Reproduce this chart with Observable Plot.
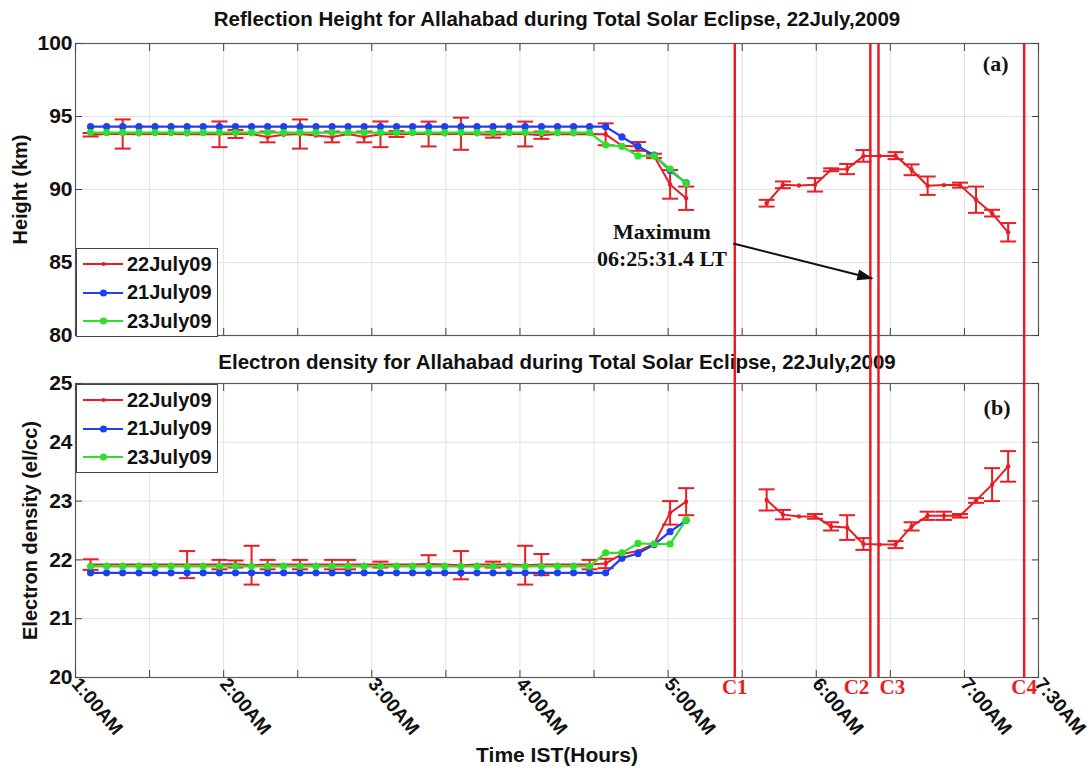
<!DOCTYPE html>
<html><head><meta charset="utf-8">
<script src="https://cdn.jsdelivr.net/npm/d3@7"></script>
<script src="https://cdn.jsdelivr.net/npm/@observablehq/plot@0.6"></script>
<style>
html,body{margin:0;padding:0;background:#fff;}
#wrap{position:relative;width:1092px;height:769px;overflow:hidden;font-family:"Liberation Sans",Arial,sans-serif;}
#wrap svg{display:block;}
.legend{position:absolute;left:76px;width:140px;border:1px solid #444;background:#fff;font-weight:bold;font-size:20px;color:#111;box-sizing:content-box;}
.legend .row{display:flex;align-items:center;height:28.5px;white-space:nowrap;}
.legend svg{display:block;flex:none;}
</style></head><body>
<div id="wrap"><div id="top"></div><div id="bottom"></div></div>
<script>
// ---------------- data ----------------
const seriesNames = ["22July09", "21July09", "23July09"];
const seriesColors = ["#ec1c24", "#1f3ff0", "#2ee02e"];

// sample times, minutes after midnight (IST)
const timePre = [66.1, 72.6, 79.1, 85.7, 92.2, 98.7, 105.2, 111.7, 118.3, 124.8,
  131.3, 137.8, 144.3, 150.9, 157.4, 163.9, 170.4, 176.9, 183.5, 190.0,
  196.5, 203.0, 209.5, 216.1, 222.6, 229.1, 235.6, 242.1, 248.7, 255.2,
  261.7, 268.2, 274.7, 281.3, 287.8, 294.3, 300.8, 307.3];
const timePost = [339.9, 346.5, 353.0, 359.5, 366.0, 372.5, 379.1, 385.6,
  392.1, 398.6, 405.1, 411.7, 418.2, 424.7, 431.2, 437.7];

// (a) reflection height, km
const heightRedPre = [93.75, 93.8, 93.8, 93.78, 93.8, 93.8, 93.78, 93.8, 93.78, 93.8,
  93.8, 93.6, 93.75, 93.8, 93.7, 93.6, 93.8, 93.6, 93.78, 93.8,
  93.8, 93.8, 93.78, 93.82, 93.78, 93.75, 93.8, 93.8, 93.72, 93.8,
  93.78, 93.8, 93.78, 93.0, 92.95, 92.3, 90.35, 89.4];
const heightRedPreErr = [0.12, 0, 1.0, 0, 0, 0, 0, 0, 0.88, 0.27,
  0, 0.37, 0, 1.0, 0, 0.37, 0, 0.37, 0.88, 0.2,
  0, 0.85, 0, 1.1, 0, 0.2, 0, 0.85, 0.25, 0,
  0, 0, 0.75, 0, 0.3, 0.15, 0.98, 0.8];
const heightRedPost = [89.06, 90.32, 90.27, 90.32, 91.35, 91.4, 92.3, 92.3,
  92.32, 91.35, 90.26, 90.3, 90.3, 89.3, 88.38, 87.07];
const heightRedPostErr = [0.23, 0.23, 0, 0.46, 0.1, 0.35, 0.4, 0,
  0.24, 0.37, 0.63, 0, 0.17, 0.9, 0.23, 0.63];
const heightBlue = [94.3, 94.3, 94.3, 94.3, 94.3, 94.3, 94.3, 94.3, 94.3, 94.3,
  94.3, 94.3, 94.3, 94.3, 94.3, 94.3, 94.3, 94.3, 94.3, 94.3,
  94.3, 94.3, 94.3, 94.3, 94.3, 94.3, 94.3, 94.3, 94.3, 94.3,
  94.3, 94.3, 94.3, 93.6, 92.95, 92.35, 91.3, 90.45];
const heightGreen = [93.9, 93.9, 93.9, 93.9, 93.9, 93.9, 93.9, 93.9, 93.9, 93.9,
  93.9, 93.9, 93.9, 93.9, 93.9, 93.9, 93.9, 93.9, 93.9, 93.9,
  93.9, 93.9, 93.9, 93.9, 93.9, 93.9, 93.9, 93.9, 93.9, 93.9,
  93.9, 93.9, 93.05, 92.95, 92.3, 92.3, 91.4, 90.4];

// (b) electron density, el/cc
const densityRedPre = [21.92, 21.92, 21.92, 21.92, 21.92, 21.92, 21.92, 21.92, 21.92, 21.93,
  21.91, 21.92, 21.92, 21.92, 21.92, 21.92, 21.92, 21.92, 21.92, 21.92,
  21.92, 21.93, 21.92, 21.91, 21.92, 21.92, 21.92, 21.91, 21.92, 21.92,
  21.92, 21.92, 21.94, 22.1, 22.15, 22.27, 22.8, 22.99];
const densityRedPreErr = [0.09, 0, 0, 0, 0, 0, 0.23, 0, 0.08, 0.06,
  0.33, 0.08, 0, 0.08, 0, 0.08, 0.08, 0, 0.05, 0,
  0, 0.15, 0, 0.24, 0, 0.05, 0, 0.33, 0.18, 0,
  0, 0.08, 0.08, 0, 0, 0, 0.2, 0.23];
const densityRedPost = [23.02, 22.77, 22.74, 22.74, 22.57, 22.55, 22.27, 22.26,
  22.26, 22.57, 22.75, 22.75, 22.75, 23.01, 23.28, 23.59];
const densityRedPostErr = [0.18, 0.08, 0, 0.04, 0.07, 0.21, 0.1, 0,
  0.06, 0.07, 0.07, 0.07, 0.03, 0.04, 0.28, 0.26];
const densityBlue = [21.78, 21.78, 21.78, 21.78, 21.78, 21.78, 21.78, 21.78, 21.78, 21.78,
  21.78, 21.78, 21.78, 21.78, 21.78, 21.78, 21.78, 21.78, 21.78, 21.78,
  21.78, 21.78, 21.78, 21.78, 21.78, 21.78, 21.78, 21.78, 21.78, 21.78,
  21.78, 21.78, 21.78, 22.03, 22.11, 22.26, 22.48, 22.67];
const densityGreen = [21.89, 21.89, 21.89, 21.89, 21.89, 21.89, 21.89, 21.89, 21.89, 21.89,
  21.89, 21.89, 21.89, 21.89, 21.89, 21.89, 21.89, 21.89, 21.89, 21.89,
  21.89, 21.89, 21.89, 21.89, 21.89, 21.89, 21.89, 21.89, 21.89, 21.89,
  21.89, 21.89, 22.12, 22.12, 22.28, 22.27, 22.27, 22.68];

// eclipse contacts (minutes after midnight)
const contactTimes = [327.0, 381.9, 385.2, 444.2];
const contactLabels = ["C1", "C2", "C3", "C4"];
const contactAnchors = ["middle", "end", "start", "middle"];

// axes
const gridTimes = [60, 90, 120, 150, 180, 210, 240, 270, 300, 330, 360, 390, 420, 450];
const xTickValues = [60, 120, 180, 240, 300, 360, 420, 450];
const xTickLabels = ["1:00AM", "2:00AM", "3:00AM", "4:00AM", "5:00AM", "6:00AM", "7:00AM", "7:30AM"];
const heightTicks = [80, 85, 90, 95, 100];
const densityTicks = [20, 21, 22, 23, 24, 25];

const titleTop = "Reflection Height for Allahabad during Total Solar Eclipse, 22July,2009";
const titleBottom = "Electron density for Allahabad during Total Solar Eclipse, 22July,2009";

// annotation (data coordinates of panel a)
const maxNoteText = "Maximum\n06:25:31.4 LT";
const maxNotePos = {t: 297.5, v: 86.27};
const maxArrow = {t1: 326.4, v1: 86.3, t2: 382.7, v2: 83.9};

// ---------------- build ----------------
const RED = seriesColors[0], BLUE = seriesColors[1], GREEN = seriesColors[2];
const cap = {draw(ctx) { ctx.moveTo(-8, 0); ctx.lineTo(8, 0); }};
const arrowHead = {draw(ctx) { ctx.moveTo(1, 0); ctx.lineTo(-15, -5.5); ctx.lineTo(-15, 5.5); ctx.closePath(); }};

function redRows(pre, preErr, post, postErr) {
  return [
    ...timePre.map((t, i) => ({t, v: pre[i], e: preErr[i], seg: "pre"})),
    ...timePost.map((t, i) => ({t, v: post[i], e: postErr[i], seg: "post"}))
  ];
}
function rows(vals) { return timePre.map((t, i) => ({t, v: vals[i]})); }

function panel(o) {
  const red = redRows(o.redPre, o.redPreErr, o.redPost, o.redPostErr);
  const err = red.filter(d => d.e > 0);
  const blue = rows(o.blue), green = rows(o.green);
  return Plot.plot({
    width: 1092, height: o.height,
    marginLeft: 75, marginRight: 54, marginTop: o.marginTop, marginBottom: o.marginBottom,
    x: {domain: [60, 450]},
    y: {domain: o.yDomain},
    style: {fontFamily: "'Liberation Sans', Arial, sans-serif", color: "#111", background: "white"},
    marks: [
      Plot.gridX(gridTimes, {stroke: "#e2e2e2", strokeOpacity: 1, strokeWidth: 1}),
      Plot.gridY(o.yTicks, {stroke: "#e2e2e2", strokeOpacity: 1, strokeWidth: 1}),
      Plot.frame({stroke: "#5a5a5a", strokeWidth: 1.2}),
      Plot.axisX(gridTimes, {anchor: "bottom", tickSize: -7, tickFormat: () => "", label: null, stroke: "#444"}),
      Plot.axisX(gridTimes, {anchor: "top", tickSize: -7, tickFormat: () => "", label: null, stroke: "#444"}),
      Plot.axisY(o.yTicks, {anchor: "left", tickSize: -7, tickFormat: () => "", label: null, stroke: "#444"}),
      Plot.axisY(o.yTicks, {anchor: "right", tickSize: -7, tickFormat: () => "", label: null, stroke: "#444"}),
      Plot.axisY(o.yTicks, {anchor: "left", tickSize: 0, tickPadding: 3, tickFormat: d => String(d), label: null, fontSize: 21, fontWeight: "bold", fill: "#111"}),
      Plot.text([o.yLabel], {text: d => d, frameAnchor: "left", rotate: -90, dx: o.yLabelDx, textAnchor: "middle", lineAnchor: "middle", fontSize: 20, fontWeight: "bold", fill: "#111"}),
      Plot.text([o.title], {text: d => d, frameAnchor: "top", dy: o.titleDy, textAnchor: "middle", lineAnchor: "middle", fontSize: 20.5, fontWeight: "bold", fill: "#111"}),
      Plot.text([o.tag], {text: d => d, frameAnchor: "top-right", dx: o.tagDx, dy: o.tagDy, textAnchor: "end", lineAnchor: "middle", fontSize: 22, fontWeight: "bold", fontFamily: "'Liberation Serif', 'Times New Roman', serif", fill: "#111"}),
      Plot.ruleX(contactTimes, {stroke: RED, strokeWidth: 2.5, insetTop: o.ruleInsetTop, insetBottom: o.ruleInsetBottom}),
      // 22 July (red) with error bars
      Plot.ruleX(err, {x: "t", y1: d => d.v - d.e, y2: d => d.v + d.e, stroke: RED, strokeWidth: 2}),
      Plot.dot(err, {x: "t", y: d => d.v - d.e, symbol: cap, fill: "none", stroke: RED, strokeWidth: 2}),
      Plot.dot(err, {x: "t", y: d => d.v + d.e, symbol: cap, fill: "none", stroke: RED, strokeWidth: 2}),
      Plot.line(red, {x: "t", y: "v", z: "seg", stroke: RED, strokeWidth: 2}),
      Plot.dot(red, {x: "t", y: "v", r: 2.2, fill: RED}),
      // 21 July (blue)
      Plot.line(blue, {x: "t", y: "v", stroke: BLUE, strokeWidth: 2.2}),
      Plot.dot(blue, {x: "t", y: "v", r: 3.6, fill: BLUE}),
      // 23 July (green)
      Plot.line(green, {x: "t", y: "v", stroke: GREEN, strokeWidth: 2.2}),
      Plot.dot(green, {x: "t", y: "v", r: 3.6, fill: GREEN}),
      ...(o.extra || [])
    ]
  });
}

const topPlot = panel({
  height: 345, marginTop: 43, marginBottom: 10,
  yDomain: [80, 100], yTicks: heightTicks, yLabel: "Height (km)", yLabelDx: -55,
  title: titleTop, titleDy: -24, tag: "(a)", tagDx: -30, tagDy: 20,
  ruleInsetTop: 0, ruleInsetBottom: -10,
  redPre: heightRedPre, redPreErr: heightRedPreErr, redPost: heightRedPost, redPostErr: heightRedPostErr,
  blue: heightBlue, green: heightGreen,
  extra: [
    Plot.link([maxArrow], {x1: "t1", y1: "v1", x2: "t2", y2: "v2", stroke: "#111", strokeWidth: 2}),
    Plot.dot([maxArrow], {x: "t2", y: "v2", symbol: arrowHead, rotate: 14.1, fill: "#111", stroke: "none"}),
    Plot.text([maxNotePos], {x: "t", y: "v", text: () => maxNoteText, textAnchor: "middle", lineAnchor: "middle", lineHeight: 1.2, fontSize: 22, fontWeight: "bold", fontFamily: "'Liberation Serif', 'Times New Roman', serif", fill: "#111"})
  ]
});

const xTickRows = xTickValues.map((t, i) => ({t, label: xTickLabels[i]}));
const contactRows = contactTimes.map((t, i) => ({t, label: contactLabels[i], anchor: contactAnchors[i]}));

const bottomPlot = panel({
  height: 424, marginTop: 38, marginBottom: 92,
  yDomain: [20, 25], yTicks: densityTicks, yLabel: "Electron density (el/cc)", yLabelDx: -45,
  title: titleBottom, titleDy: -21, tag: "(b)", tagDx: -28, tagDy: 24,
  ruleInsetTop: -38, ruleInsetBottom: 0,
  redPre: densityRedPre, redPreErr: densityRedPreErr, redPost: densityRedPost, redPostErr: densityRedPostErr,
  blue: densityBlue, green: densityGreen,
  extra: [
    Plot.text(xTickRows, {x: "t", text: "label", frameAnchor: "bottom", rotate: 50, textAnchor: "start", lineAnchor: "middle", dy: 3, fontSize: 19, fontWeight: "bold", fill: "#111"}),
    ...["start", "middle", "end"].map(a => Plot.text(contactRows.filter(d => d.anchor === a), {
      x: "t", text: "label", frameAnchor: "bottom", dy: 10, textAnchor: a, lineAnchor: "middle",
      dx: a === "start" ? 1 : a === "end" ? -1 : 0,
      fontSize: 21, fontWeight: "bold", fontFamily: "'Liberation Serif', 'Times New Roman', serif", fill: RED})),
    Plot.text(["Time IST(Hours)"], {text: d => d, frameAnchor: "bottom", dy: 78, textAnchor: "middle", lineAnchor: "middle", fontSize: 21, fontWeight: "bold", fill: "#111"})
  ]
});

document.getElementById("top").appendChild(topPlot);
document.getElementById("bottom").appendChild(bottomPlot);

// legends
function legend(top) {
  const div = document.createElement("div");
  div.className = "legend";
  div.style.top = top + "px";
  div.style.paddingTop = "1px";
  seriesNames.forEach((name, i) => {
    const row = document.createElement("div");
    row.className = "row";
    const c = seriesColors[i];
    const marker = i === 0 ? `<circle cx="26.5" cy="7" r="2" fill="${c}"/>` : `<circle cx="26.5" cy="7" r="3.6" fill="${c}"/>`;
    row.innerHTML = `<svg width="50" height="14"><line x1="6" x2="46" y1="7" y2="7" stroke="${c}" stroke-width="2"/>${marker}</svg><span>${name}</span>`;
    div.appendChild(row);
  });
  document.getElementById("wrap").appendChild(div);
}
legend(248);
legend(384);
</script></body></html>
